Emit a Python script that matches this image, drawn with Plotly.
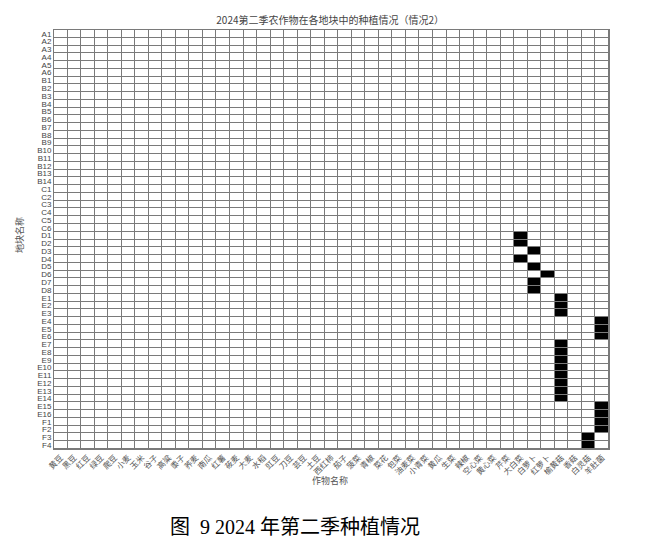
import plotly.graph_objects as go

plots = (["A%d" % i for i in range(1, 7)] + ["B%d" % i for i in range(1, 15)] +
         ["C%d" % i for i in range(1, 7)] + ["D%d" % i for i in range(1, 9)] +
         ["E%d" % i for i in range(1, 17)] + ["F%d" % i for i in range(1, 5)])

crops = ["黄豆", "黑豆", "红豆", "绿豆", "爬豆", "小麦", "玉米", "谷子", "高粱", "黍子",
         "荞麦", "南瓜", "红薯", "莜麦", "大麦", "水稻", "豇豆", "刀豆", "芸豆", "土豆",
         "西红柿", "茄子", "菠菜", "青椒", "菜花", "包菜", "油麦菜", "小青菜", "黄瓜", "生菜",
         "辣椒", "空心菜", "黄心菜", "芹菜", "大白菜", "白萝卜", "红萝卜", "榆黄菇", "香菇",
         "白灵菇", "羊肚菌"]

planted_dabaicai = ["D1", "D2", "D4"]
planted_bailuobo = ["D3", "D5", "D7", "D8"]
planted_hongluobo = ["D6"]
planted_yuhuanggu = ["E1", "E2", "E3", "E7", "E8", "E9", "E10", "E11", "E12", "E13", "E14"]
planted_bailinggu = ["F3", "F4"]
planted_yangdujun = ["E4", "E5", "E6", "E15", "E16", "F1", "F2"]

planted = {
    "大白菜": planted_dabaicai,
    "白萝卜": planted_bailuobo,
    "红萝卜": planted_hongluobo,
    "榆黄菇": planted_yuhuanggu,
    "白灵菇": planted_bailinggu,
    "羊肚菌": planted_yangdujun,
}

z = [[1 if p in planted.get(c, []) else 0 for c in crops] for p in plots]

fig = go.Figure(go.Heatmap(
    z=z, x=crops, y=plots,
    colorscale=[[0, "white"], [1, "black"]],
    zmin=0, zmax=1, showscale=False,
    xgap=1, ygap=1, hoverinfo="skip",
))

cjk = "Noto Sans CJK SC"
fig.update_layout(
    width=650, height=546,
    margin=dict(l=54, r=41, t=30, b=97),
    paper_bgcolor="white",
    plot_bgcolor="#7a7a7a",
    title=dict(text="2024第二季农作物在各地块中的种植情况（情况2）",
               x=0.508, xanchor="center", y=1 - 20 / 546, yanchor="middle",
               font=dict(family=cjk, size=10, color="#444")),
    xaxis=dict(type="category", tickangle=-45, ticks="", showgrid=False,
               tickmode="array", tickvals=crops, ticktext=crops,
               tickfont=dict(family=cjk, size=8, color="#555"),
               showline=True, mirror=True, linecolor="#7a7a7a", linewidth=1),
    yaxis=dict(type="category", autorange="reversed", ticks="", showgrid=False,
               tickmode="array", tickvals=plots, ticktext=plots,
               tickfont=dict(family="Liberation Sans Narrow, Liberation Sans", size=8, color="#444"),
               showline=True, mirror=True, linecolor="#7a7a7a", linewidth=1),
    annotations=[
        dict(text="作物名称", xref="paper", yref="paper", x=0.497, y=-0.074,
             showarrow=False, font=dict(family=cjk, size=9, color="#555"),
             xanchor="center", yanchor="middle"),
        dict(text="地块名称", xref="paper", yref="paper", x=-0.061, y=0.511,
             showarrow=False, textangle=-90, font=dict(family=cjk, size=9, color="#555"),
             xanchor="center", yanchor="middle"),
        dict(text="图  9 2024 年第二季种植情况", xref="paper", yref="paper", x=0.434, y=-0.186,
             showarrow=False, font=dict(family="Liberation Serif, " + cjk, size=20, color="black"),
             xanchor="center", yanchor="middle"),
    ],
)

fig.write_html("out.html")
